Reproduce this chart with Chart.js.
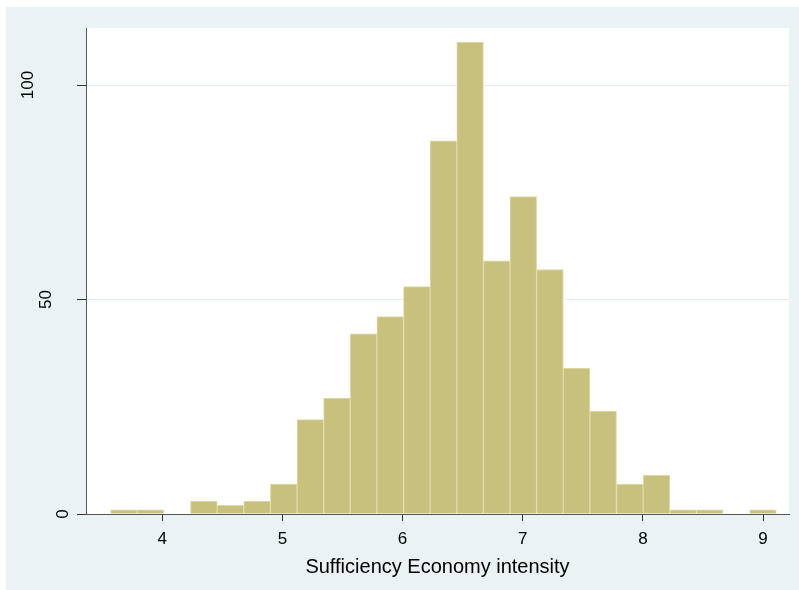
<!DOCTYPE html>
<html>
<head>
<meta charset="utf-8">
<script src="https://cdn.jsdelivr.net/npm/chart.js@4.4.0/dist/chart.umd.min.js"></script>
<style>
    html, body { margin: 0; padding: 0; background: #fff; }
    #wrap { position: absolute; left: 6px; top: 7px; width: 793px; height: 583px; }
</style>
</head>
<body>
<div id="wrap"><canvas id="histChart"></canvas></div>
<script>
// histogram bins (lower edge of first bin, bin width) and counts per bin
const binStart = 3.57;
const binWidth = 0.2216;
const binCounts = [1, 1, 0, 3, 2, 3, 7, 22, 27, 42, 46, 53, 87, 110, 59, 74, 57, 34, 24, 7, 9, 1, 1, 0, 1];
const xTicks = [4, 5, 6, 7, 8, 9];
const yTicks = [0, 50, 100];
const xTitle = 'Sufficiency Economy intensity';

const FONT = '"Liberation Sans", Arial, sans-serif';

// light graph region + white plot region
const backdrop = {
    id: 'backdrop',
    beforeDraw(chart) {
        const { ctx, chartArea: a } = chart;
        ctx.save();
        ctx.fillStyle = '#eaf2f3';
        ctx.fillRect(0, 0, chart.width, chart.height);
        ctx.fillStyle = '#ffffff';
        ctx.fillRect(a.left, a.top, a.right - a.left, a.bottom - a.top);
        ctx.restore();
    }
};

// y tick labels are rotated like Stata's default
const rotatedYLabels = {
    id: 'rotatedYLabels',
    afterDraw(chart) {
        const scale = chart.scales.y;
        const ctx = chart.ctx;
        ctx.save();
        ctx.font = '17px ' + FONT;
        ctx.fillStyle = '#000';
        ctx.textAlign = 'center';
        ctx.textBaseline = 'middle';
        scale.ticks.forEach(t => {
            const label = String(t.value);
            const w = ctx.measureText(label).width;
            const x = scale.right - 5 - 1.85 * w;
            const y = scale.getPixelForValue(t.value);
            ctx.save();
            ctx.translate(x, y);
            ctx.rotate(-Math.PI / 2);
            ctx.fillText(label, 0, 0);
            ctx.restore();
        });
        ctx.restore();
    }
};

const points = binCounts.map((c, i) => ({ x: binStart + binWidth * (i + 0.5), y: c }));

new Chart(document.getElementById('histChart'), {
    type: 'bar',
    data: {
        datasets: [{
            data: points,
            backgroundColor: '#c8c17e',
            borderColor: '#e0daaa',
            borderWidth: 1,
            barPercentage: 1,
            categoryPercentage: 1
        }]
    },
    options: {
        responsive: true,
        maintainAspectRatio: false,
        animation: false,
        layout: { padding: { top: 21, right: 10, left: 0, bottom: 0 } },
        plugins: { legend: { display: false }, tooltip: { enabled: false } },
        scales: {
            x: {
                type: 'linear',
                offset: false,
                min: 3.365,
                max: 9.216,
                afterBuildTicks: axis => { axis.ticks = xTicks.map(v => ({ value: v })); },
                afterFit: axis => { axis.height = 76; },
                grid: { offset: false, drawOnChartArea: false, tickLength: 7, tickColor: '#333' },
                border: { color: '#555', width: 1 },
                ticks: { color: '#000', padding: 8, font: { family: FONT, size: 17 } },
                title: {
                    display: true,
                    text: xTitle,
                    color: '#000',
                    font: { family: FONT, size: 20 },
                    padding: { top: 0, bottom: 11 }
                }
            },
            y: {
                min: 0,
                max: 113.3,
                afterBuildTicks: axis => { axis.ticks = yTicks.map(v => ({ value: v })); },
                afterFit: axis => { axis.width = 80; },
                grid: {
                    color: ctx => (ctx.tick && ctx.tick.value === 0 ? 'rgba(0,0,0,0)' : '#e3ecef'),
                    tickColor: '#333',
                    tickLength: 9
                },
                border: { color: '#555', width: 1 },
                ticks: { display: false }
            }
        }
    },
    plugins: [backdrop, rotatedYLabels]
});
</script>
</body>
</html>
